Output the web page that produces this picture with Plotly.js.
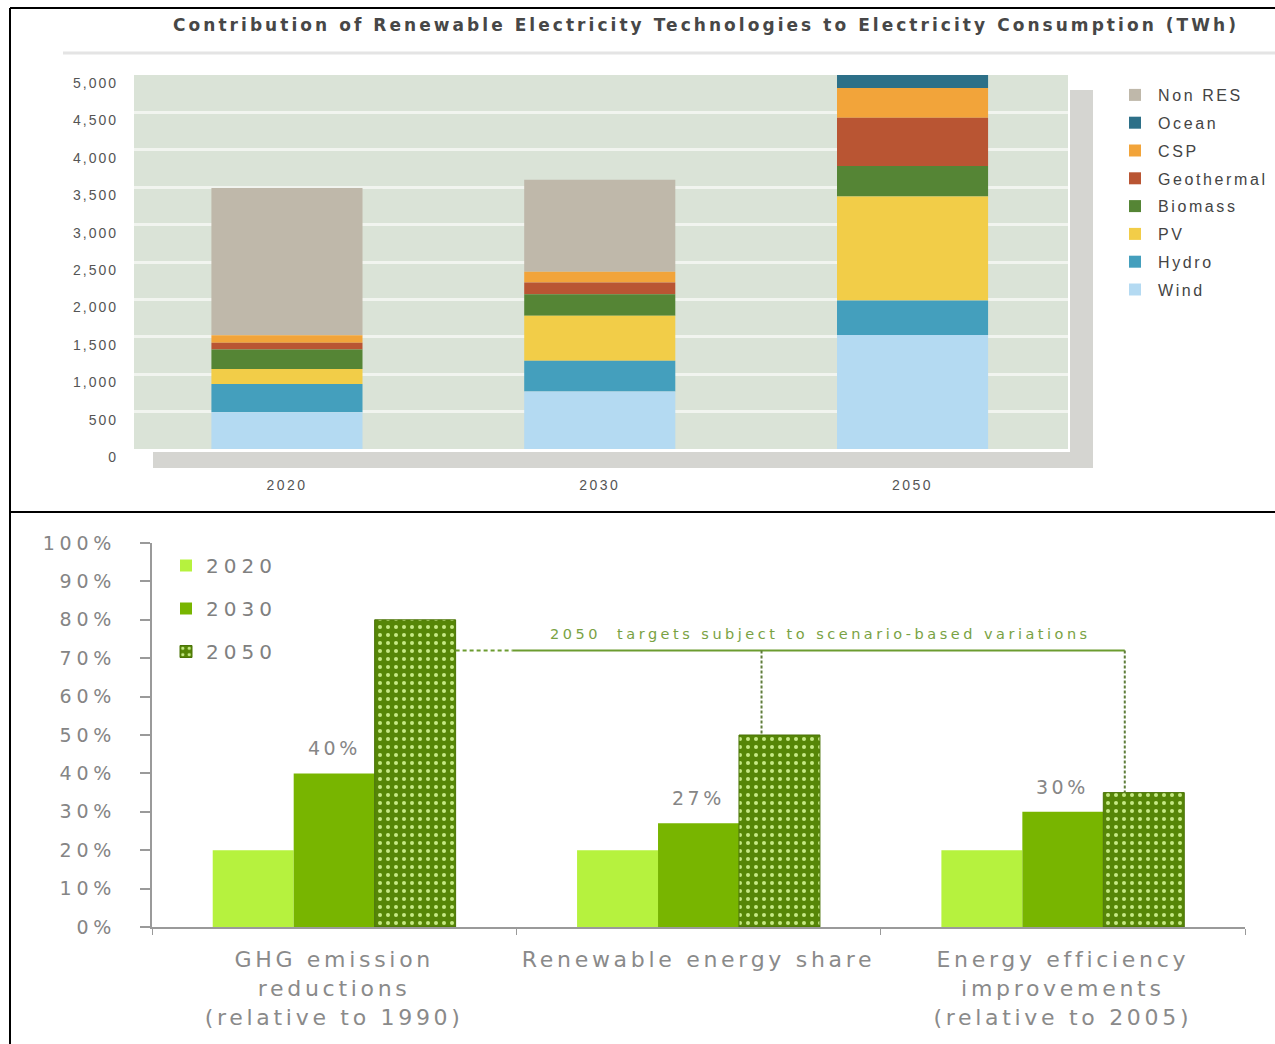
<!DOCTYPE html>
<html>
<head>
<meta charset="utf-8">
<script src="https://cdn.plot.ly/plotly-3.0.1.min.js"></script>
<style>
  html, body { margin: 0; padding: 0; background: #fff; }
  #chart { width: 1275px; height: 1044px; }
  /* wide type, as in the printed report */
  .gtitle { letter-spacing: 3.05px; }
  .ytick text { letter-spacing: 2px; }
  .xtick text { letter-spacing: 2.5px; }
  text.legendtext[style*="Liberation"] { letter-spacing: 2.6px; }
  .y2tick text { letter-spacing: 4.8px; }
  .x2tick text { letter-spacing: 3.7px; }
  .annotation-text { letter-spacing: 3.5px; }
</style>
</head>
<body>
<div id="chart"></div>
<script>
// ---- Contribution of renewable technologies to electricity consumption (TWh)
const years = ['2020', '2030', '2050'];
const techNames = ['Wind', 'Hydro', 'PV', 'Biomass', 'Geothermal', 'CSP', 'Ocean', 'Non RES'];
const wind       = [490, 770, 1525];
const hydro      = [380, 410, 460];
const pv         = [200, 600, 1390];
const biomass    = [260, 290, 410];
const geothermal = [90, 155, 645];
const csp        = [100, 145, 395];
const ocean      = [0, 0, 175];
const nonRes     = [1970, 1230, 0];
const techColors = ['#b4daf2', '#449fbd', '#f2cd48', '#558535', '#b95533', '#f2a43a', '#2d7088', '#bfb8aa'];
const twhTicks   = [0, 500, 1000, 1500, 2000, 2500, 3000, 3500, 4000, 4500, 5000];

// ---- Climate and energy targets (%)
const targetCategories = [
  'GHG emission<br>reductions<br>(relative to 1990)',
  'Renewable energy share',
  'Energy efficiency<br>improvements<br>(relative to 2005)'
];
const target2020 = [20, 20, 20];
const target2030 = [40, 27, 30];
const target2050 = [80, 50, 35];
const targetYears = ['2020', '2030', '2050'];
const bracketLevel = 72;
const scenarioNote = '2050  targets subject to scenario-based variations';
const pctTicks = [0, 10, 20, 30, 40, 50, 60, 70, 80, 90, 100];
const pctLabels = pctTicks.map(v => v + '%');

// page geometry helpers (pixels -> paper fractions)
const W = 1275, H = 1044;
const px = v => v / W;
const py = v => 1 - v / H;

// ---------- top chart: stacked columns built from running bases
const techSeries = [wind, hydro, pv, biomass, geothermal, csp, ocean, nonRes];
const running = years.map(() => 0);
const topTraces = techSeries.map((vals, k) => {
  const base = running.slice();
  vals.forEach((v, i) => { running[i] += v; });
  return {
    type: 'bar', name: techNames[k], x: years, y: vals, base: base,
    width: 0.483, offset: -0.2415,
    marker: { color: techColors[k], line: { width: 0 } },
    xaxis: 'x', yaxis: 'y', legend: 'legend', legendgroup: 't' + k,
    hoverinfo: 'name+y'
  };
});
// legend lists the top of the stack first
topTraces.reverse();

// ---------- bottom chart: grouped target bars
const bottomTraces = [
  {
    type: 'bar', name: targetYears[0], x: targetCategories, y: target2020,
    marker: { color: '#b6f23e', line: { width: 0 } },
    xaxis: 'x2', yaxis: 'y2', legend: 'legend2', legendgroup: 'g0'
  },
  {
    type: 'bar', name: targetYears[1], x: targetCategories, y: target2030,
    marker: { color: '#78b500', line: { width: 0 } },
    xaxis: 'x2', yaxis: 'y2', legend: 'legend2', legendgroup: 'g1'
  },
  {
    type: 'bar', name: targetYears[2], x: targetCategories, y: target2050,
    marker: {
      color: '#568607',
      line: { color: '#4a7306', width: 1 },
      pattern: { shape: '.', bgcolor: '#568607', fgcolor: '#c6ea85', size: 8, solidity: 0.2 }
    },
    xaxis: 'x2', yaxis: 'y2', legend: 'legend2', legendgroup: 'g2'
  }
];

const fTop = 'Liberation Sans, Arial, sans-serif';
const fBot = 'DejaVu Sans, Verdana, sans-serif';

// value labels above the 2030 bars and the scenario bracket note
const annotations = target2030.map((v, i) => ({
  x: targetCategories[i], y: v, xref: 'x2', yref: 'y2',
  text: v + '%', showarrow: false, yanchor: 'middle', yshift: 25,
  font: { family: fBot, size: 19, color: '#868686' }
}));
annotations.push({
  x: 1.336, y: bracketLevel, xref: 'x2', yref: 'y2', yshift: 17,
  text: scenarioNote, showarrow: false, xanchor: 'center', yanchor: 'middle',
  font: { family: fBot, size: 14.5, color: '#79a243' }
});

const green = '#6c9c30';
const shapes = [
  // plot panel of the top chart
  { type: 'rect', xref: 'x domain', yref: 'y domain', x0: 0, x1: 1, y0: 0, y1: 1,
    fillcolor: '#dae3d7', line: { width: 0 }, layer: 'below' },
  // floor and side wall of the panel
  { type: 'rect', xref: 'paper', yref: 'paper', x0: px(153), x1: px(1093), y0: py(468), y1: py(452),
    fillcolor: '#d5d5d1', line: { width: 0 }, layer: 'below' },
  { type: 'rect', xref: 'paper', yref: 'paper', x0: px(1070), x1: px(1093), y0: py(468), y1: py(90),
    fillcolor: '#d5d5d1', line: { width: 0 }, layer: 'below' },
  // rule under the title
  { type: 'line', xref: 'paper', yref: 'paper', x0: px(63), x1: 1, y0: py(53), y1: py(53),
    line: { color: '#e4e4e4', width: 3 } },
  // frame lines
  { type: 'line', xref: 'paper', yref: 'paper', x0: px(10), x1: 1, y0: py(8), y1: py(8),
    line: { color: '#000', width: 2 } },
  { type: 'line', xref: 'paper', yref: 'paper', x0: px(10), x1: 1, y0: py(512), y1: py(512),
    line: { color: '#000', width: 2 } },
  { type: 'line', xref: 'paper', yref: 'paper', x0: px(10), x1: px(10), y0: 0, y1: py(8),
    line: { color: '#000', width: 2 } },
  // 2050 scenario bracket
  { type: 'line', xref: 'x2', yref: 'y2', x0: 1 / 3, x1: 0.49, y0: bracketLevel, y1: bracketLevel,
    line: { color: green, width: 2, dash: '4px,3px' } },
  { type: 'line', xref: 'x2', yref: 'y2', x0: 0.49, x1: 2.17, y0: bracketLevel, y1: bracketLevel,
    line: { color: green, width: 2 } },
  { type: 'line', xref: 'x2', yref: 'y2', x0: 1.173, x1: 1.173, y0: bracketLevel, y1: target2050[1],
    line: { color: '#5f7d3a', width: 2, dash: '3px,2px' } },
  { type: 'line', xref: 'x2', yref: 'y2', x0: 2.17, x1: 2.17, y0: bracketLevel, y1: target2050[2],
    line: { color: '#5f7d3a', width: 2, dash: '3px,2px' } }
];

const layout = {
  width: W, height: H,
  margin: { l: 0, r: 0, t: 0, b: 0 },
  paper_bgcolor: '#ffffff', plot_bgcolor: 'rgba(0,0,0,0)',
  barmode: 'group', bargap: 1 / 3, bargroupgap: 0,
  showlegend: true,
  title: {
    text: 'Contribution of Renewable Electricity Technologies to Electricity Consumption (TWh)',
    x: px(706), y: py(25), xref: 'paper', yref: 'paper', xanchor: 'center', yanchor: 'middle',
    font: { family: 'DejaVu Sans, Arial, sans-serif', size: 17, weight: 700, color: '#474747' }
  },
  xaxis: {
    domain: [px(134), px(1068)], anchor: 'y', type: 'category',
    range: [-0.489, 2.497], showgrid: false, zeroline: false, showline: false, ticks: '',
    ticklabelstandoff: 26,
    tickfont: { family: fTop, size: 14, color: '#555' }
  },
  yaxis: {
    domain: [py(449), py(75)], anchor: 'x', range: [0, 5000],
    tickvals: twhTicks, tickformat: ',d',
    showgrid: true, gridcolor: '#f1f4ef', gridwidth: 3, zeroline: false, showline: false, ticks: '',
    ticklabelstandoff: 15, ticklabelshift: 8,
    tickfont: { family: fTop, size: 14, color: '#555' }
  },
  xaxis2: {
    domain: [px(152), px(1245)], anchor: 'y2', type: 'category',
    range: [-0.5, 2.5], showgrid: false, zeroline: false,
    showline: true, linecolor: '#9a9a9a', linewidth: 2,
    ticks: 'outside', tickson: 'boundaries', ticklen: 6, tickcolor: '#9a9a9a', tickwidth: 1,
    ticklabelstandoff: 12,
    tickfont: { family: fBot, size: 22, color: '#8a8a8a' }
  },
  yaxis2: {
    domain: [py(927), py(543)], anchor: 'x2', range: [0, 100],
    tickvals: pctTicks, ticktext: pctLabels,
    showgrid: false, zeroline: false,
    showline: true, linecolor: '#9a9a9a', linewidth: 2,
    ticks: 'outside', ticklen: 10, tickcolor: '#9a9a9a', tickwidth: 2,
    ticklabelstandoff: 20,
    tickfont: { family: fBot, size: 19, color: '#858585' }
  },
  legend: {
    x: px(1112), y: py(78), xanchor: 'left', yanchor: 'top',
    traceorder: 'grouped', tracegroupgap: 4, itemwidth: 36,
    bgcolor: 'rgba(0,0,0,0)', borderwidth: 0,
    font: { family: fTop, size: 16, color: '#444' }
  },
  legend2: {
    x: px(166), y: py(546), xanchor: 'left', yanchor: 'top',
    traceorder: 'grouped', tracegroupgap: 14,
    bgcolor: 'rgba(0,0,0,0)', borderwidth: 0,
    font: { family: fBot, size: 20, color: '#808080' }
  },
  shapes: shapes,
  annotations: annotations
};

Plotly.newPlot('chart', topTraces.concat(bottomTraces), layout, { displayModeBar: false, staticPlot: true })
  .then(gd => {
    // widen the year labels of the targets legend and let them run past the legend box
    gd.querySelectorAll('text').forEach(t => {
      const fam = getComputedStyle(t).fontFamily || '';
      if (fam.indexOf('DejaVu') !== -1 && targetYears.indexOf(t.textContent.trim()) !== -1) {
        const box = t.closest('.infolayer > g');
        if (!box) return;
        t.style.letterSpacing = '5px';
        box.querySelectorAll('[clip-path]').forEach(el => el.removeAttribute('clip-path'));
      }
    });
  });
</script>
</body>
</html>
